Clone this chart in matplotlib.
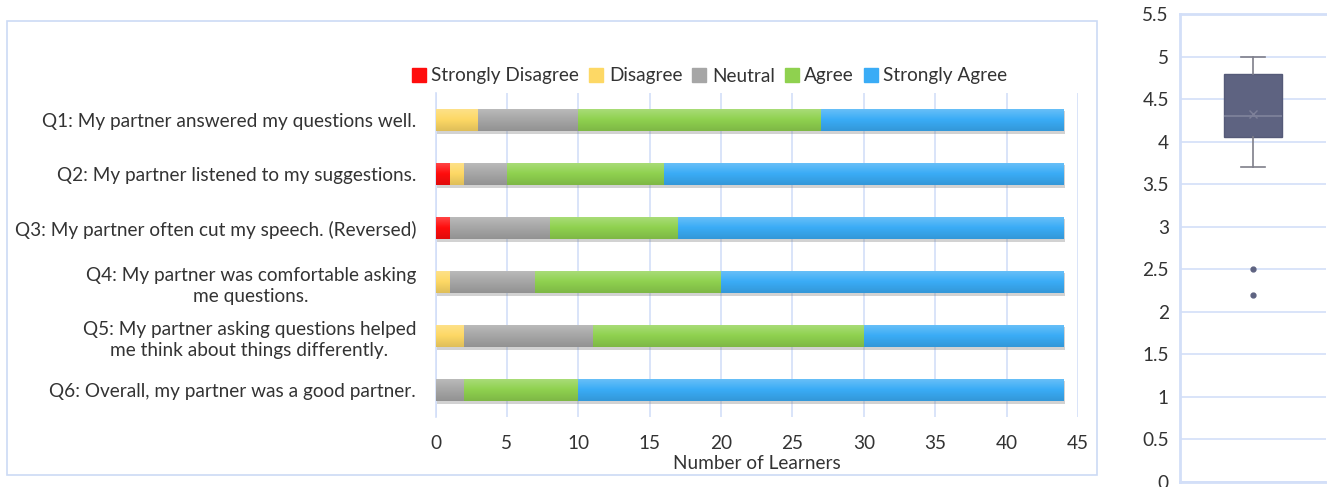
import matplotlib
matplotlib.use("Agg")
import matplotlib.pyplot as plt
import matplotlib.patheffects as pe
from matplotlib.patches import Rectangle
from matplotlib.lines import Line2D
from matplotlib.colors import LinearSegmentedColormap, to_rgb
import numpy as np

plt.rcParams['font.family'] = ['Lato', 'DejaVu Sans']

questions = [
    "Q1: My partner answered my questions well.",
    "Q2: My partner listened to my suggestions.",
    "Q3: My partner often cut my speech. (Reversed)",
    "Q4: My partner was comfortable asking\nme questions.",
    "Q5: My partner asking questions helped\nme think about things differently.",
    "Q6: Overall, my partner was a good partner.",
]
levels = ["Strongly Disagree", "Disagree", "Neutral", "Agree", "Strongly Agree"]
strongly_disagree = [0, 1, 1, 0, 0, 0]
disagree = [3, 1, 0, 1, 2, 0]
neutral = [7, 3, 7, 6, 9, 2]
agree = [17, 11, 9, 13, 19, 8]
strongly_agree = [17, 28, 27, 24, 14, 34]
x_ticks = [0, 5, 10, 15, 20, 25, 30, 35, 40, 45]

# overall rating distribution (box plot summary)
box_low_whisker = 3.7
box_q1 = 4.05
box_median = 4.3
box_q3 = 4.8
box_high_whisker = 5.0
box_mean = 4.33
box_outliers = [2.5, 2.2]
box_ticks = [0, 0.5, 1, 1.5, 2, 2.5, 3, 3.5, 4, 4.5, 5, 5.5]

colors = ["#FF0D0D", "#FDD865", "#A6A6A6", "#8FD14F", "#3AACF6"]
grid_col = "#D3DFF8"
text_col = "#333333"
fs = 13.7

W, H = 1327, 487
fig = plt.figure(figsize=(W / 100, H / 100), dpi=100)

# outer frame of the bar chart
fig.patches.append(Rectangle((7 / W, 1 - 475 / H), (1097 - 7) / W, (475 - 21) / H,
                             transform=fig.transFigure, fill=False,
                             edgecolor="#CCDAF5", linewidth=1.2))

ax = fig.add_axes([435.5 / W, 1 - 417 / H, (1078 - 435.5) / W, (417 - 93) / H])
series = [strongly_disagree, disagree, neutral, agree, strongly_agree]
ypos = np.arange(len(questions))
left = np.zeros(len(questions))
bar_h = 0.41
shadow = [pe.SimplePatchShadow(offset=(1.2, -1.8), shadow_rgbFace="#808080", alpha=0.35), pe.Normal()]
handles = []
for vals, col, name in zip(series, colors, levels):
    bars = ax.barh(ypos, vals, left=left, height=bar_h, color=col, label=name,
                   zorder=3, linewidth=0)
    r, g, b = to_rgb(col)
    light = tuple(min(1, c + (1 - c) * 0.25) for c in (r, g, b))
    dark = tuple(c * 0.88 for c in (r, g, b))
    cmap = LinearSegmentedColormap.from_list(name, [light, col, dark])
    for rect in bars.patches:
        if rect.get_width() <= 0:
            rect.set_visible(False)
            continue
        rect.set_path_effects(shadow)
        x0, y0 = rect.get_x(), rect.get_y()
        w, h = rect.get_width(), rect.get_height()
        im = ax.imshow(np.linspace(0, 1, 64).reshape(-1, 1), cmap=cmap,
                       extent=[x0, x0 + w, y0 + h, y0], aspect="auto",
                       zorder=4, interpolation="bilinear")
        im.set_clip_path(rect)
    left += np.array(vals)
    handles.append(Line2D([], [], marker="s", linestyle="", markersize=10,
                          markerfacecolor=col, markeredgecolor=col, label=name))

ax.set_xlim(0, 45)
ax.set_ylim(len(questions) - 0.5, -0.5)
ax.set_xticks(x_ticks)
ax.set_yticks(ypos)
ax.set_yticklabels(questions, multialignment="center", linespacing=1.35)
ax.tick_params(axis="both", length=0, labelsize=fs, colors=text_col)
ax.tick_params(axis="y", pad=14)
ax.tick_params(axis="x", pad=13)
ax.xaxis.grid(True, color=grid_col, linewidth=1.2, zorder=0)
ax.set_axisbelow(True)
for s in ["top", "right", "bottom"]:
    ax.spines[s].set_visible(False)
ax.spines["left"].set_color(grid_col)
ax.spines["left"].set_linewidth(1.2)
ax.set_xlabel("Number of Learners", fontsize=fs, color=text_col, labelpad=2)

fig.legend(handles=handles, loc="center", bbox_to_anchor=(710 / W, 1 - 76 / H),
           ncol=5, frameon=False, fontsize=fs, handlelength=0.7,
           handletextpad=0.3, columnspacing=0.55, labelcolor=text_col)

# box plot panel
bx = fig.add_axes([1180 / W, 1 - 482 / H, (1326 - 1180) / W, (482 - 14) / H])
stats = [dict(whislo=box_low_whisker, q1=box_q1, med=box_median, q3=box_q3,
              whishi=box_high_whisker, mean=box_mean, fliers=box_outliers)]
box_col = "#5E6381"
bx.bxp(stats, positions=[1], widths=0.40, showmeans=True, patch_artist=True,
       boxprops=dict(facecolor=box_col, edgecolor="#555A78", linewidth=1),
       medianprops=dict(color="#80849C", linewidth=1.2),
       whiskerprops=dict(color="#7F7F8A", linewidth=1.2),
       capprops=dict(color="#7F7F8A", linewidth=1.2),
       capwidths=0.16,
       meanprops=dict(marker="x", markeredgecolor="#7D8099", markersize=6, markeredgewidth=1),
       flierprops=dict(marker="o", markerfacecolor="#5E6381", markeredgecolor="#5E6381",
                       markersize=3.5))
bx.set_xlim(0.5, 1.5)
bx.set_ylim(0, 5.5)
bx.set_yticks(box_ticks)
bx.set_yticklabels([f"{t:g}" for t in box_ticks])
bx.set_xticks([])
bx.tick_params(axis="y", length=0, labelsize=fs, colors=text_col, pad=8)
bx.yaxis.grid(True, color=grid_col, linewidth=1.2)
bx.set_axisbelow(True)
bx.spines["right"].set_visible(False)
for s in ["left", "top", "bottom"]:
    bx.spines[s].set_color(grid_col)
    bx.spines[s].set_linewidth(2)

fig.savefig("out.png", dpi=100)
